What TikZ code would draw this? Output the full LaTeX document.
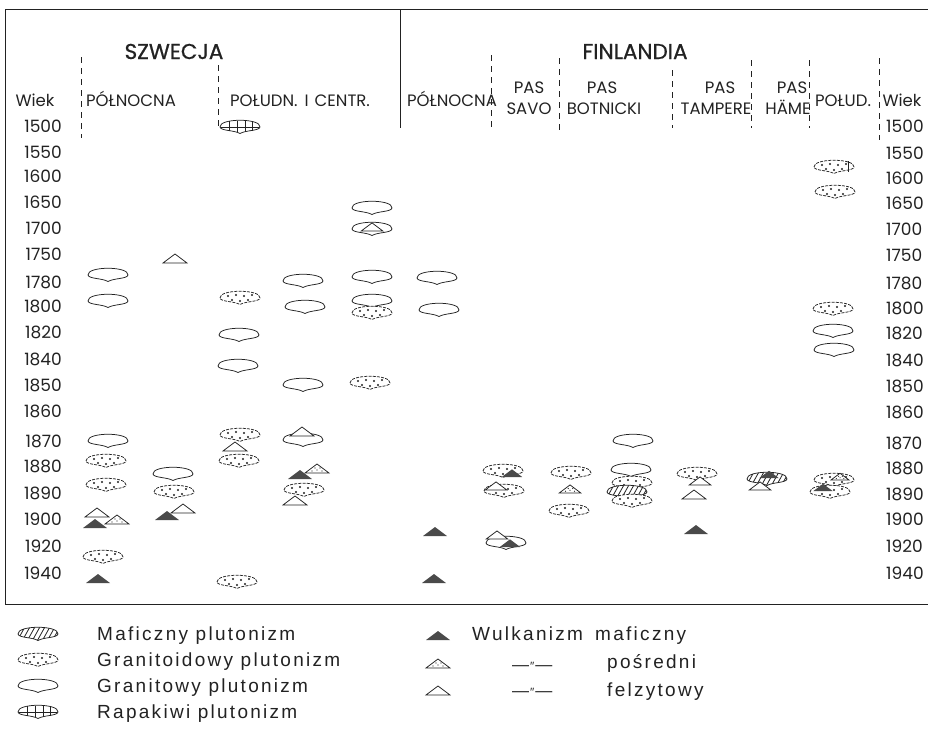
\documentclass[tikz,border=0pt]{standalone}
\usepackage{fontspec}
\setmainfont{Poppins}
\newfontfamily\legfont[LetterSpace=12]{Liberation Sans}
\newfontfamily\plainleg{Liberation Sans}
\newfontfamily\titlefont[FakeBold=0.8]{Poppins}
\definecolor{ink}{HTML}{222222}
\definecolor{volc}{HTML}{4A4A4A}
\tikzset{
  lab/.style={font=\fontsize{16.5}{20}\selectfont, inner sep=0pt, text=ink},
  yr/.style={font=\fontsize{17}{20}\selectfont, inner sep=0pt, text=ink},
  ttl/.style={font=\titlefont\fontsize{21.5}{25}\selectfont, inner sep=0pt, text=ink},
  leg/.style={font=\legfont\fontsize{19}{23}\selectfont, inner sep=0pt, text=ink, anchor=base west},
  ditto/.style={font=\plainleg\fontsize{17}{20}\selectfont, inner sep=0pt, text=ink, anchor=base west},
  frame/.style={draw=ink, line width=0.9pt},
  sep/.style={draw=ink, line width=0.7pt, dash pattern=on 6pt off 5pt},
  shp/.style={draw=ink, line width=0.75pt},
  granite/.pic={\path[shp, fill=white] (-20,0) .. controls (-21,-9) and (21,-9) .. (20,0) .. controls (19,4) and (6,3) .. (0,6.5) .. controls (-6,3) and (-19,4) .. (-20,0) -- cycle;},
  granitoid/.pic={\path[shp, fill=white, dash pattern=on 3pt off 1.2pt] (-20,0) .. controls (-21,-9) and (21,-9) .. (20,0) .. controls (19,4) and (6,3) .. (0,6.5) .. controls (-6,3) and (-19,4) .. (-20,0) -- cycle;
    \foreach \a/\b in {-12/-2,-4/-3,4/-2,12/-3,-8/2,0/3,8/2} \fill[ink] (\a,\b) circle (1.05);},
  mafic/.pic={\path[fill=white] (-20,0) .. controls (-21,-9) and (21,-9) .. (20,0) .. controls (19,4) and (6,3) .. (0,6.5) .. controls (-6,3) and (-19,4) .. (-20,0) -- cycle;
    \begin{scope}
    \clip (-20,0) .. controls (-21,-9) and (21,-9) .. (20,0) .. controls (19,4) and (6,3) .. (0,6.5) .. controls (-6,3) and (-19,4) .. (-20,0) -- cycle;
    \foreach \i in {-32,-27,...,22} \draw[ink, line width=0.8pt] (\i,9) -- (\i+10,-9);
    \end{scope}
    \path[shp] (-20,0) .. controls (-21,-9) and (21,-9) .. (20,0) .. controls (19,4) and (6,3) .. (0,6.5) .. controls (-6,3) and (-19,4) .. (-20,0) -- cycle;},
  rapak/.pic={\path[shp, fill=white] (-20,0) .. controls (-21,-9) and (21,-9) .. (20,0) .. controls (19,4) and (6,3) .. (0,6.5) .. controls (-6,3) and (-19,4) .. (-20,0) -- cycle;
    \draw[ink, line width=0.7pt] (-19,0) -- (19,0) (-11,-6) -- (-11,4) (-3,-6.5) -- (-3,5) (5,-6.5) -- (5,5) (12,-6) -- (12,3.5);},
  tfil/.pic={\fill[volc] (-12,0) -- (0,-9) -- (12,0) -- cycle;},
  topen/.pic={\path[shp, fill=white] (-12,0) -- (0,-9) -- (12,0) -- cycle;},
  tmid/.pic={\path[shp, fill=white] (-12,0) -- (0,-9) -- (12,0) -- cycle;
    \foreach \a/\b in {-5/-2,0/-3,5/-2,-2/-5,3/-5} \fill[ink] (\a,\b) circle (0.7);},
}
\begin{document}
\begin{tikzpicture}[x=1pt,y=-1pt]
\useasboundingbox (0,0) rectangle (928,729);
% frame
\draw[frame] (928,9) -- (5,9) -- (5,604) -- (928,604);
\draw[frame] (400,9) -- (400,128);
% dashed separators
\foreach \x/\a/\b in {81/57/138, 218/65/127, 491/55/130, 559/58/130, 672/70/128, 751/60/128, 809/60/128, 879/58/140}
  \draw[sep] (\x,\a) -- (\x,\b);
% titles
\node[ttl, anchor=base] (tsw) at (174,59) {SZWECJA};
\node[ttl, anchor=base] (tfi) at (635,59) {FINLANDIA};
% header labels
\node[lab, anchor=base] (hwl) at (35,106) {Wiek};
\node[lab, anchor=base] (hsn) at (131,106) {PÓŁNOCNA};
\node[lab, anchor=base] (hss) at (300,106) {POŁUDN.\hspace{7pt}I\hspace{6pt}CENTR.};
\node[lab, anchor=base] (hfn) at (452,106) {PÓŁNOCNA};
\node[lab, anchor=base] (hp1) at (529,93) {PAS};
\node[lab, anchor=base] (hsa) at (529,114) {SAVO};
\node[lab, anchor=base] (hp2) at (602,93) {PAS};
\node[lab, anchor=base] (hbo) at (604,114) {BOTNICKI};
\node[lab, anchor=base] (hp3) at (720,93) {PAS};
\node[lab, anchor=base] (hta) at (716,114) {TAMPERE};
\node[lab, anchor=base] (hp4) at (792,93) {PAS};
\node[lab, anchor=base] (hha) at (788,114) {HÄME};
\node[lab, anchor=base] (hpo) at (843,106) {POŁUD.};
\node[lab, anchor=base] (hwr) at (902,106) {Wiek};
% years
\foreach \v/\y in {1500/126,1550/152,1600/176,1650/202,1700/228,1750/254,1780/282,1800/306,1820/332,1840/359,1850/385,1860/411,1870/441,1880/466,1890/493,1900/519,1920/546,1940/573}
  \node[yr, anchor=base east] (yl\v) at (62,\y+6) {\v};
\foreach \v/\y in {1500/126,1550/153,1600/178,1650/203,1700/229,1750/255,1780/283,1800/308,1820/333,1840/360,1850/386,1860/412,1870/443,1880/468,1890/494,1900/519,1920/546,1940/573}
  \node[yr, anchor=base west] (yr\v) at (886,\y+6) {\v};
% ---- Sweden ----
\pic at (240,127) {rapak};
\pic at (372,208) {granite};
\pic at (372,229) {granite};
\pic[scale=0.9] at (372,231) {topen};
\pic at (175,263) {topen};
\pic at (108,275) {granite};
\pic at (303,281) {granite};
\pic at (372,277) {granite};
\pic at (108,301) {granite};
\pic at (240,298) {granitoid};
\pic at (305,307) {granite};
\pic at (372,301) {granite};
\pic at (372,313) {granitoid};
\pic at (239,335) {granite};
\pic at (238,366) {granite};
\pic at (303,385) {granite};
\pic at (370,383) {granitoid};
\pic at (108,441) {granite};
\pic at (240,435) {granitoid};
\pic at (235,451) {topen};
\pic at (239,461) {granitoid};
\pic at (303,440) {granite};
\pic at (302,436) {topen};
\pic at (106,461) {granitoid};
\pic at (106,485) {granitoid};
\pic at (173,474) {granite};
\pic at (174,492) {granitoid};
\pic at (183,513) {topen};
\pic at (167,520) {tfil};
\pic at (97,517) {topen};
\pic at (117,524) {tmid};
\pic at (95,528) {tfil};
\pic at (317,473) {tmid};
\pic at (300,479) {tfil};
\pic at (304,490) {granitoid};
\pic at (295,505) {topen};
\pic at (103,557) {granitoid};
\pic at (98,583) {tfil};
\pic at (237,582) {granitoid};
% ---- Finland ----
\pic at (437,278) {granite};
\pic at (439,310) {granite};
\pic at (435,536) {tfil};
\pic at (434,583) {tfil};
% Savo
\pic at (503,471) {granitoid};
\pic[scale=0.85] at (512,477) {tfil};
\pic at (504,491) {granitoid};
\pic[scale=0.9] at (496,490) {topen};
\pic at (506,543) {granite};
\pic[scale=0.9] at (497,539) {topen};
\pic[scale=0.85] at (510,547) {tfil};
% Botnicki
\pic at (571,473) {granitoid};
\pic[scale=0.9] at (570,493) {tmid};
\pic at (569,511) {granitoid};
\pic at (633,441) {granite};
\pic at (631,470) {granite};
\pic at (632,483) {granitoid};
\pic at (627,492) {mafic};
\pic at (632,501) {granitoid};
% Tampere
\pic at (697,474) {granitoid};
\pic[scale=0.9] at (700,485) {topen};
\pic at (694,499) {topen};
\pic at (696,534) {tfil};
% Hame
\pic at (767,479) {mafic};
\pic[scale=0.8] at (769,478) {tfil};
\pic[scale=0.9] at (760,490) {topen};
% Poludnie
\pic at (834,167) {granitoid};
\draw[ink, line width=0.75pt] (848,161) -- (848,172);
\pic at (835,192) {granitoid};
\pic at (833,309) {granitoid};
\pic at (833,331) {granite};
\pic at (834,350) {granite};
\pic at (834,480) {granitoid};
\pic[scale=0.75] at (840,480) {tmid};
\pic at (830,492) {granitoid};
\pic[scale=0.8] at (823,491) {tfil};
% ---- legend ----
\pic at (38,634) {mafic};
\pic at (38,660) {granitoid};
\pic at (38,686) {granite};
\pic at (38,712) {rapak};
\node[leg] (l1) at (97,640) {Maficzny plutonizm};
\node[leg] (l2) at (97,666) {Granitoidowy plutonizm};
\node[leg] (l3) at (97,692) {Granitowy plutonizm};
\node[leg] (l4) at (97,718) {Rapakiwi plutonizm};
\pic at (438,640) {tfil};
\pic at (438,668) {tmid};
\pic at (438,695) {topen};
\node[leg] (l5) at (472,640) {Wulkanizm};
\node[leg] (l6) at (595,640) {maficzny};
\node[ditto] (l7) at (512,670) {—\kern1pt{\fontsize{12}{12}\selectfont\char"2033}\kern1pt—};
\node[leg] (l8) at (607,668) {pośredni};
\node[ditto] (l9) at (512,696) {—\kern1pt{\fontsize{12}{12}\selectfont\char"2033}\kern1pt—};
\node[leg] (l10) at (607,696) {felzytowy};
\end{tikzpicture}
\end{document}
